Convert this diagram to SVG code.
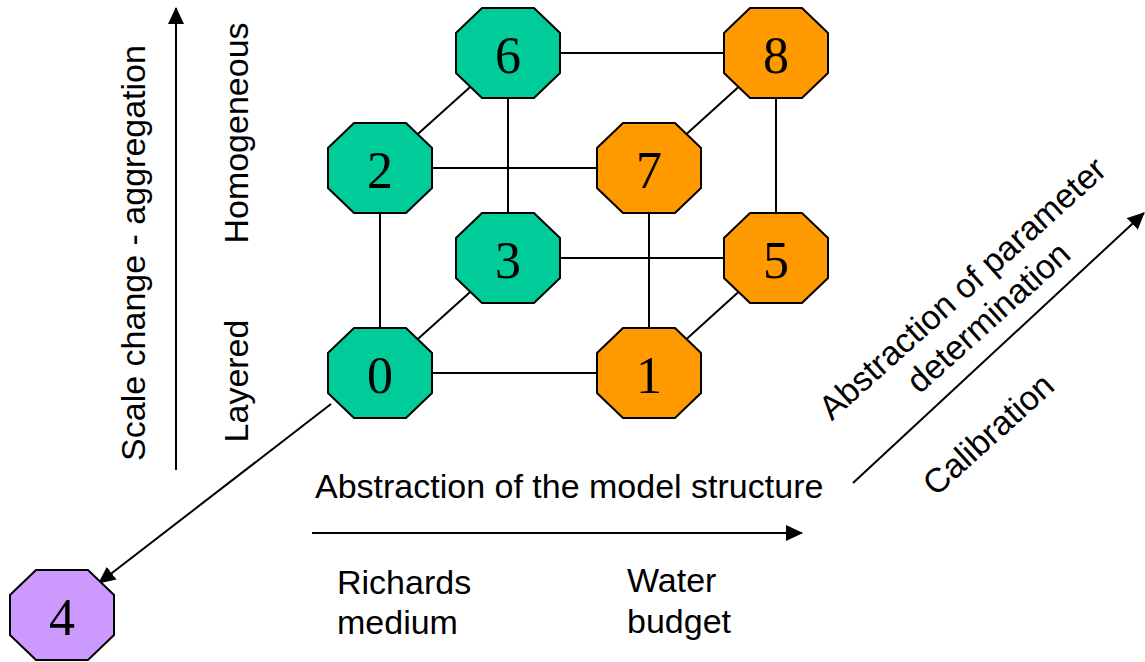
<svg xmlns="http://www.w3.org/2000/svg" width="1145" height="662" viewBox="0 0 1145 662">
<style>
  .oct { stroke: #000; stroke-width: 2; }
  .teal { fill: #00CC99; }
  .orange { fill: #FF9900; }
  .purple { fill: #CC99FF; }
  .num { font-family: "Liberation Serif", "Times New Roman", serif; font-size: 52px; text-anchor: middle; fill: #000; }
  .lbl { font-family: "Liberation Sans", Arial, sans-serif; font-size: 34px; fill: #000; }
  .edge { stroke: #000; stroke-width: 2; fill: none; }
  .arrow { stroke: #000; stroke-width: 2; fill: none; marker-end: url(#ah); }
</style>
<defs>
  <marker id="ah" viewBox="0 0 17 16" refX="16" refY="8" markerWidth="17" markerHeight="16" markerUnits="userSpaceOnUse" orient="auto">
    <path d="M0,0 L17,8 L0,16 z" fill="#000"/>
  </marker>
  <polygon id="octo" points="-26,-45 26,-45 52,-20 52,20 26,45 -26,45 -52,20 -52,-20"/>
</defs>

<g id="connectors">
  <line class="edge" x1="380" y1="373" x2="649" y2="373"/>
  <line class="edge" x1="380" y1="373" x2="380" y2="168"/>
  <line class="edge" x1="380" y1="373" x2="508" y2="258"/>
  <line class="edge" x1="380" y1="168" x2="649" y2="168"/>
  <line class="edge" x1="380" y1="168" x2="508" y2="53"/>
  <line class="edge" x1="508" y1="53" x2="776" y2="53"/>
  <line class="edge" x1="508" y1="53" x2="508" y2="258"/>
  <line class="edge" x1="508" y1="258" x2="776" y2="258"/>
  <line class="edge" x1="649" y1="168" x2="649" y2="373"/>
  <line class="edge" x1="649" y1="168" x2="776" y2="53"/>
  <line class="edge" x1="776" y1="53" x2="776" y2="258"/>
  <line class="edge" x1="649" y1="373" x2="776" y2="258"/>
  <line class="arrow" x1="331" y1="404" x2="99" y2="583"/>
  <line class="arrow" x1="176" y1="470" x2="176" y2="8"/>
  <line class="arrow" x1="312" y1="533" x2="802" y2="533"/>
  <line class="arrow" x1="853" y1="483" x2="1144" y2="213"/>
</g>

<g id="node6" transform="translate(508,53)"><use href="#octo" class="oct teal"/><text class="num" x="0" y="20">6</text></g>
<g id="node8" transform="translate(776,53)"><use href="#octo" class="oct orange"/><text class="num" x="0" y="20">8</text></g>
<g id="node2" transform="translate(380,168)"><use href="#octo" class="oct teal"/><text class="num" x="0" y="20">2</text></g>
<g id="node7" transform="translate(649,168)"><use href="#octo" class="oct orange"/><text class="num" x="0" y="20">7</text></g>
<g id="node3" transform="translate(508,258)"><use href="#octo" class="oct teal"/><text class="num" x="0" y="20">3</text></g>
<g id="node5" transform="translate(776,258)"><use href="#octo" class="oct orange"/><text class="num" x="0" y="20">5</text></g>
<g id="node0" transform="translate(380,373)"><use href="#octo" class="oct teal"/><text class="num" x="0" y="20">0</text></g>
<g id="node1" transform="translate(649,373)"><use href="#octo" class="oct orange"/><text class="num" x="0" y="20">1</text></g>
<g id="node4" transform="translate(62,615)"><use href="#octo" class="oct purple"/><text class="num" x="0" y="20">4</text></g>

<g id="labels">
  <text class="lbl" x="145" y="253" text-anchor="middle" transform="rotate(-90 145 253)">Scale change - aggregation</text>
  <text class="lbl" x="248" y="133" text-anchor="middle" transform="rotate(-90 248 133)">Homogeneous</text>
  <text class="lbl" x="248" y="381" text-anchor="middle" transform="rotate(-90 248 381)">Layered</text>
  <text class="lbl" x="315" y="498">Abstraction of the model structure</text>
  <text class="lbl" x="337" y="594">Richards</text>
  <text class="lbl" x="337" y="634">medium</text>
  <text class="lbl" x="627" y="592">Water</text>
  <text class="lbl" x="627" y="633">budget</text>
  <g transform="translate(962,288) rotate(-42)">
    <text class="lbl" x="0" y="12" text-anchor="middle">Abstraction of parameter</text>
    <text class="lbl" x="0" y="51" text-anchor="middle">determination</text>
  </g>
  <text class="lbl" x="988" y="446" text-anchor="middle" transform="rotate(-42 988 434)">Calibration</text>
</g>
</svg>
